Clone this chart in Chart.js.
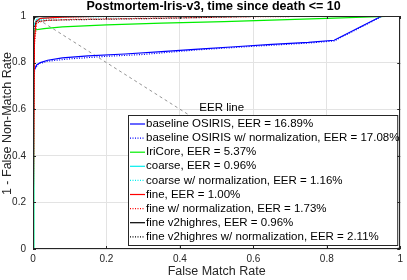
<!DOCTYPE html>
<html>
<head>
<meta charset="utf-8">
<script src="https://cdn.jsdelivr.net/npm/chart.js@4.4.0/dist/chart.umd.min.js"></script>
<style>
  html, body { margin: 0; padding: 0; background: #fff; }
  #wrap { width: 407px; height: 280px; }
</style>
</head>
<body>
<div id="wrap"><canvas id="rocChart" width="407" height="280"></canvas></div>
<script>
// 数据 (FMR, 1 - FNMR)
const baselineOsiris = [[0,0],[0,0.74],[0.003,0.77],[0.01,0.79],[0.02,0.80],[0.04,0.81],[0.08,0.82],[0.15,0.829],[0.25,0.837],[0.35,0.847],[0.45,0.858],[0.55,0.868],[0.65,0.878],[0.75,0.887],[0.82,0.896],[0.95,1],[1,1]];
const baselineOsirisNorm = [[0,0],[0,0.73],[0.005,0.77],[0.015,0.795],[0.04,0.806],[0.1,0.816],[0.2,0.827],[0.3,0.835],[0.45,0.855],[0.6,0.87],[0.75,0.884],[0.82,0.893],[0.95,0.998],[1,1]];
const iriCore = [[0,0],[0.002,0.9],[0.004,0.94],[0.03,0.946],[0.08,0.953],[0.2,0.962],[0.35,0.969],[0.52,0.976],[0.8,0.99],[1,1]];
const coarse = [[0,0],[0.002,0.96],[0.01,0.985],[0.03,0.993],[0.08,0.997],[0.2,1],[1,1]];
const coarseNorm = [[0,0],[0.003,0.95],[0.012,0.98],[0.04,0.99],[0.1,0.995],[0.3,0.999],[1,1]];
const fine = [[0,0],[0.004,0.9],[0.008,0.975],[0.02,0.99],[0.08,0.995],[0.2,0.999],[1,1]];
const fineNorm = [[0,0],[0.004,0.88],[0.01,0.97],[0.03,0.98],[0.1,0.985],[0.3,0.99],[0.6,0.997],[1,1]];
const v2highres = [[0,0],[0.001,0.98],[0.005,0.995],[0.03,1],[1,1]];
const v2highresNorm = [[0,0],[0.002,0.95],[0.01,0.975],[0.04,0.982],[0.15,0.985],[0.35,0.99],[0.6,0.998],[1,1]];
const eerLine = [[0,1],[1,0]];

const seriesLabels = [
  'baseline OSIRIS, EER = 16.89%',
  'baseline OSIRIS w/ normalization, EER = 17.08%',
  'IriCore, EER = 5.37%',
  'coarse, EER = 0.96%',
  'coarse w/ normalization, EER = 1.16%',
  'fine, EER = 1.00%',
  'fine w/ normalization, EER = 1.73%',
  'fine v2highres, EER = 0.96%',
  'fine v2highres w/ normalization, EER = 2.11%'
];
const seriesData = [baselineOsiris, baselineOsirisNorm, iriCore, coarse, coarseNorm, fine, fineNorm, v2highres, v2highresNorm];
const xTicks = [0, 0.2, 0.4, 0.6, 0.8, 1];
const yTicks = [0, 0.2, 0.4, 0.6, 0.8, 1];
const titleText = 'Postmortem-Iris-v3, time since death <= 10';
const xTitle = 'False Match Rate';
const yTitle = '1 - False Non-Match Rate';
const eerLabel = 'EER line';
const eerLabelPos = [0.453, 0.605];

// 样式
const seriesColors = ['#0000ff', '#0000ff', '#00ee00', '#00eeee', '#00eeee', '#ff0000', '#ff0000', '#000000', '#000000'];
const seriesDashed = [false, true, false, false, true, false, true, false, true];
const FONT = '"Liberation Sans", Arial, Helvetica, sans-serif';
const AXIS_COLOR = '#262626';

const toPoints = arr => arr.map(p => ({ x: p[0], y: p[1] }));

const datasets = seriesData.map((arr, i) => ({
  label: seriesLabels[i],
  data: toPoints(arr),
  borderColor: seriesColors[i],
  borderWidth: 1.2,
  borderDash: seriesDashed[i] ? [1, 1.5] : [],
  showLine: true,
  pointRadius: 0,
  tension: 0,
  order: seriesData.length - i
}));
datasets.push({
  label: eerLabel,
  data: toPoints(eerLine),
  borderColor: '#7a7a7a',
  borderWidth: 0.8,
  borderDash: [3, 3],
  showLine: true,
  pointRadius: 0,
  order: 100
});

// 坐标框、内刻度、标题和轴标签
const axesBoxPlugin = {
  id: 'axesBox',
  afterDatasetsDraw(chart) {
    const { ctx, chartArea: a, scales } = chart;
    ctx.save();
    ctx.strokeStyle = AXIS_COLOR;
    ctx.lineWidth = 1;
    ctx.strokeRect(Math.round(a.left) + 0.5, Math.round(a.top) + 0.5,
      Math.round(a.right - a.left) - 1, Math.round(a.bottom - a.top) - 1);
    ctx.beginPath();
    xTicks.forEach(v => {
      const px = Math.round(scales.x.getPixelForValue(v)) + 0.5;
      ctx.moveTo(px, a.bottom); ctx.lineTo(px, a.bottom - 3);
      ctx.moveTo(px, a.top); ctx.lineTo(px, a.top + 3);
    });
    yTicks.forEach(v => {
      const py = Math.round(scales.y.getPixelForValue(v)) + 0.5;
      ctx.moveTo(a.left, py); ctx.lineTo(a.left + 3, py);
      ctx.moveTo(a.right, py); ctx.lineTo(a.right - 3, py);
    });
    ctx.stroke();

    // 标题
    ctx.fillStyle = '#000';
    ctx.textAlign = 'center';
    ctx.textBaseline = 'alphabetic';
    ctx.font = 'bold 12.5px ' + FONT;
    ctx.fillText(titleText, (a.left + a.right) / 2 - 3, 10);

    // x 轴标签
    ctx.fillStyle = AXIS_COLOR;
    ctx.font = '12.5px ' + FONT;
    ctx.fillText(xTitle, (a.left + a.right) / 2, 275);

    // y 轴标签
    ctx.translate(10.5, (a.top + a.bottom) / 2 - 9);
    ctx.rotate(-Math.PI / 2);
    ctx.fillText(yTitle, 0, 0);
    ctx.restore();
  }
};

// 图例框 (右下角) 和 EER 文字
const legendBoxPlugin = {
  id: 'legendBox',
  afterDraw(chart) {
    const { ctx, chartArea: a, scales } = chart;
    ctx.save();
    ctx.font = '11.5px ' + FONT;
    ctx.textBaseline = 'middle';
    ctx.fillStyle = '#000';
    ctx.fillText(eerLabel, scales.x.getPixelForValue(eerLabelPos[0]), scales.y.getPixelForValue(eerLabelPos[1]));

    const left = 128, top = 115, right = a.right - 3, bottom = a.bottom - 4;
    ctx.fillStyle = '#fff';
    ctx.fillRect(left, top, right - left, bottom - top);
    ctx.strokeStyle = '#262626';
    ctx.lineWidth = 1;
    ctx.strokeRect(left + 0.5, top + 0.5, right - left, bottom - top);

    seriesLabels.forEach((label, i) => {
      const y = top + 9 + i * 14.1;
      ctx.beginPath();
      ctx.strokeStyle = seriesColors[i];
      ctx.lineWidth = 1.2;
      ctx.setLineDash(seriesDashed[i] ? [1, 1.5] : []);
      ctx.moveTo(left + 2, y);
      ctx.lineTo(left + 17, y);
      ctx.stroke();
      ctx.setLineDash([]);
      ctx.fillStyle = '#000';
      ctx.fillText(label, left + 18, y);
    });
    ctx.restore();
  }
};

const chart = new Chart(document.getElementById('rocChart').getContext('2d'), {
  type: 'scatter',
  data: { datasets: datasets },
  options: {
    responsive: false,
    animation: false,
    devicePixelRatio: 1,
    layout: { padding: { left: 0, right: 2, top: 16, bottom: 0 } },
    plugins: {
      legend: { display: false },
      tooltip: { enabled: false },
      title: { display: false }
    },
    scales: {
      x: {
        type: 'linear',
        min: 0, max: 1,
        afterBuildTicks: s => { s.ticks = xTicks.map(v => ({ value: v })); },
        afterFit: s => { s.height = 31; },
        grid: { color: '#e3e3e3', drawTicks: false },
        border: { display: false },
        ticks: { color: AXIS_COLOR, padding: 4, font: { family: FONT, size: 10 }, maxRotation: 0, callback: v => String(v) },
        title: { display: false }
      },
      y: {
        type: 'linear',
        min: 0, max: 1,
        afterBuildTicks: s => { s.ticks = yTicks.map(v => ({ value: v })); },
        afterFit: s => { s.width = 33; },
        grid: { color: '#e3e3e3', drawTicks: false },
        border: { display: false },
        ticks: { color: AXIS_COLOR, padding: 7, font: { family: FONT, size: 10 }, callback: v => String(v) },
        title: { display: false }
      }
    }
  },
  plugins: [axesBoxPlugin, legendBoxPlugin]
});
</script>
</body>
</html>
